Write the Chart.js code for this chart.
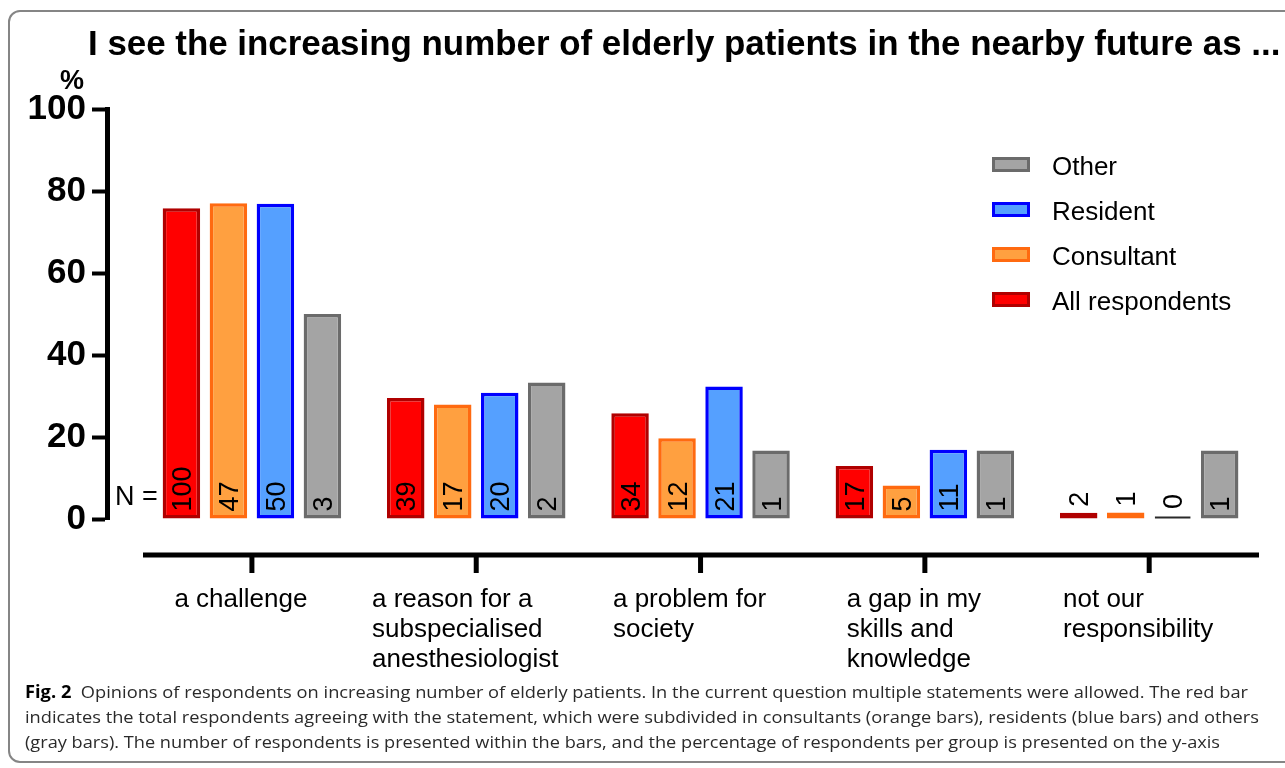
<!DOCTYPE html>
<html>
<head>
<meta charset="utf-8">
<script src="https://cdn.jsdelivr.net/npm/chart.js@4.4.0/dist/chart.umd.min.js"></script>
<style>
html, body { margin: 0; padding: 0; width: 1285px; height: 768px; overflow: hidden; background: #fff; }
#frame { position: absolute; left: 8px; top: 10px; width: 1320px; height: 753px; border: 2px solid #858585; border-radius: 12px; box-sizing: border-box; }
#chart { position: absolute; left: 0; top: 0; }
#title { position: absolute; left: 88px; top: 25px; font: bold 34.9px "Liberation Sans", Arial, sans-serif; line-height: 35px; white-space: nowrap; color: #000; }
#caption { position: absolute; left: 25px; top: 679px; font-family: "Open Sans", sans-serif; font-size: 17px; line-height: 25px; color: #2a2a2a; }
#caption div { white-space: nowrap; transform-origin: 0 0; width: max-content; }
#caption b { color: #000; }
</style>
</head>
<body>
<div id="frame"></div>
<canvas id="chart" width="1285" height="768"></canvas>
<div id="title">I see the increasing number of elderly patients in the nearby future as ...</div>
<div id="caption">
  <div data-w="1223"><b>Fig. 2</b>&nbsp; Opinions of respondents on increasing number of elderly patients. In the current question multiple statements were allowed. The red bar</div>
  <div data-w="1234">indicates the total respondents agreeing with the statement, which were subdivided in consultants (orange bars), residents (blue bars) and others</div>
  <div data-w="1195">(gray bars). The number of respondents is presented within the bars, and the percentage of respondents per group is presented on the y-axis</div>
</div>
<script>
// categorieën (x-as), meerdere regels per label
const categories = [
    ['a challenge'],
    ['a reason for a', 'subspecialised', 'anesthesiologist'],
    ['a problem for', 'society'],
    ['a gap in my', 'skills and', 'knowledge'],
    ['not our', 'responsibility']
];
const seriesNames = ['All respondents', 'Consultant', 'Resident', 'Other'];

// percentage per groep (y-as)
const allPct        = [75.8, 29.5, 25.8, 12.9, 1.5];
const consultantPct = [77.0, 27.9, 19.7, 8.2, 1.6];
const residentPct   = [76.9, 30.8, 32.3, 16.9, 0];
const otherPct      = [50.0, 33.3, 16.7, 16.7, 16.7];

// aantal respondenten (in de balken)
const allN        = [100, 39, 34, 17, 2];
const consultantN = [47, 17, 12, 5, 1];
const residentN   = [50, 20, 21, 11, 0];
const otherN      = [3, 2, 1, 1, 1];

const yTicks = [0, 20, 40, 60, 80, 100];

const fills   = ['#ff0000', '#ffa040', '#55a0ff', '#a4a4a4'];
const borders = ['#b00000', '#ff6a10', '#0000ff', '#6b6b6b'];

const pctSets = [allPct, consultantPct, residentPct, otherPct];
const nSets = [allN, consultantN, residentN, otherN];

const FONT = '"Liberation Sans", Arial, sans-serif';

const datasets = pctSets.map((vals, k) => ({
    label: seriesNames[k],
    data: vals.map((v, i) => ({ x: i, y: v })),
    counts: nSets[k],
    backgroundColor: fills[k],
    borderColor: borders[k],
    borderWidth: 3.5,
    borderSkipped: false,
    categoryPercentage: 0.838,
    barPercentage: 0.798
}));

// extra tekeningen: N-labels, x-as, legenda, "%"
const extras = {
    id: 'extras',
    afterDatasetsDraw(chart) {
        const ctx = chart.ctx;
        const base = chart.scales.y.getPixelForValue(0);
        ctx.save();
        ctx.font = '27px ' + FONT;
        ctx.fillStyle = '#000';
        chart.data.datasets.forEach((ds, k) => {
            chart.getDatasetMeta(k).data.forEach((bar, i) => {
                const txt = String(ds.counts[i]);
                const tw = ctx.measureText(txt).width;
                const h = base - bar.y;
                if (ds.counts[i] === 0) {
                    ctx.strokeStyle = '#2a2a2a';
                    ctx.lineWidth = 2;
                    ctx.beginPath();
                    ctx.moveTo(bar.x - bar.width / 2 + 1, base - 1.5);
                    ctx.lineTo(bar.x + bar.width / 2 - 1, base - 1.5);
                    ctx.stroke();
                }
                const start = (h > tw + 14) ? base - 7.5 : Math.min(bar.y, base - 4) - 6;
                ctx.save();
                ctx.translate(bar.x + 9.7, start);
                ctx.rotate(-Math.PI / 2);
                ctx.textAlign = 'left';
                ctx.textBaseline = 'alphabetic';
                ctx.fillText(txt, 0, 0);
                ctx.restore();
            });
        });
        ctx.textAlign = 'left';
        ctx.fillText('N =', chart.chartArea.left + 8, 505);
        ctx.restore();
    },
    afterDraw(chart) {
        const ctx = chart.ctx;
        const area = chart.chartArea;
        const xs = chart.scales.x;
        const axisY = area.bottom + 36;
        ctx.save();

        // losse x-as onder de balken
        ctx.strokeStyle = '#000';
        ctx.lineWidth = 5;
        ctx.beginPath();
        ctx.moveTo(area.left + 36, axisY);
        ctx.lineTo(area.right - 1, axisY);
        ctx.stroke();

        ctx.font = '26px ' + FONT;
        ctx.fillStyle = '#000';
        ctx.textAlign = 'left';
        ctx.textBaseline = 'alphabetic';
        categories.forEach((lines, i) => {
            const px = xs.getPixelForValue(i);
            ctx.beginPath();
            ctx.moveTo(px, axisY);
            ctx.lineTo(px, axisY + 18);
            ctx.stroke();
            const maxW = Math.max(...lines.map(l => ctx.measureText(l).width));
            const left = px - maxW / 2 - 11;
            lines.forEach((l, j) => ctx.fillText(l, left, axisY + 52 + 30 * j));
        });

        // legenda (omgekeerde volgorde)
        ctx.font = '26px ' + FONT;
        const order = chart.data.datasets.map((d, k) => k).reverse();
        order.forEach((k, r) => {
            const ds = chart.data.datasets[k];
            const yc = 164.5 + 45 * r;
            ctx.fillStyle = ds.backgroundColor;
            ctx.fillRect(992, yc - 7.5, 38, 15);
            ctx.strokeStyle = ds.borderColor;
            ctx.lineWidth = 3;
            ctx.strokeRect(993.5, yc - 6, 35, 12);
            ctx.fillStyle = '#000';
            ctx.fillText(ds.label, 1052, yc + 10);
        });

        // eenheid y-as
        ctx.font = 'bold 27px ' + FONT;
        ctx.textAlign = 'center';
        ctx.fillText('%', 72, 89);
        ctx.restore();
    }
};

new Chart(document.getElementById('chart'), {
    type: 'bar',
    data: { datasets: datasets },
    options: {
        responsive: false,
        animation: false,
        devicePixelRatio: 1,
        layout: { padding: { top: 109, bottom: 249, left: 0, right: 25 } },
        plugins: { legend: { display: false }, tooltip: { enabled: false } },
        scales: {
            x: {
                type: 'linear',
                min: -0.646,
                max: 4.494,
                offset: false,
                display: false,
                afterBuildTicks: s => { s.ticks = categories.map((c, i) => ({ value: i })); }
            },
            y: {
                min: 0,
                max: 100,
                afterBuildTicks: s => { s.ticks = yTicks.map(v => ({ value: v })); },
                afterFit: s => { s.width = 107; },
                ticks: { color: '#000', padding: 6, font: { family: FONT, size: 35, weight: 'bold' } },
                grid: { drawOnChartArea: false, drawTicks: true, tickLength: 15, tickWidth: 4, tickColor: '#000' },
                border: { color: '#000', width: 5 }
            }
        }
    },
    plugins: [extras]
});

// bijschrift op breedte brengen
document.querySelectorAll('#caption div').forEach(el => {
    const w = el.getBoundingClientRect().width;
    el.style.transform = 'scaleX(' + (Number(el.dataset.w) / w) + ')';
});
</script>
</body>
</html>
